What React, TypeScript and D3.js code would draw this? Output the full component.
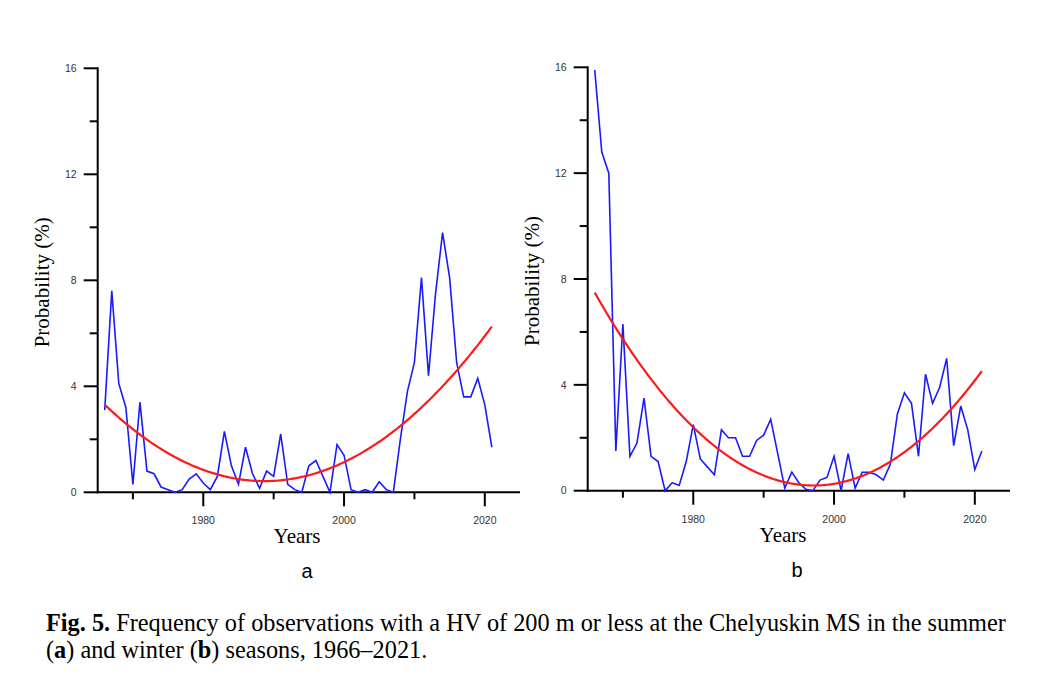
import React from "react";
import * as d3 from "d3";

const years: number[] = d3.range(1966, 2022);

const summer: number[] = [
  3.1, 7.6, 4.1, 3.2, 0.3, 3.4, 0.8, 0.7, 0.2, 0.1,
  0.0, 0.1, 0.5, 0.7, 0.35, 0.1, 0.6, 2.3, 1.0, 0.3,
  1.7, 0.7, 0.15, 0.8, 0.6, 2.2, 0.3, 0.1, 0.0, 1.0,
  1.2, 0.6, 0.0, 1.8, 1.4, 0.1, 0.0, 0.1, 0.0, 0.4,
  0.1, 0.0, 2.0, 3.8, 4.9, 8.1, 4.4, 7.5, 9.8, 8.1,
  4.9, 3.6, 3.6, 4.3, 3.3, 1.7,
];

const winter: number[] = [
  15.9, 12.8, 12.0, 1.5, 6.3, 1.3, 1.8, 3.5, 1.3, 1.1,
  0.0, 0.3, 0.2, 1.1, 2.5, 1.2, 0.9, 0.6, 2.3, 2.0,
  2.0, 1.3, 1.3, 1.9, 2.1, 2.7, 1.4, 0.1, 0.7, 0.3,
  0.05, 0.0, 0.4, 0.5, 1.3, 0.0, 1.4, 0.1, 0.7, 0.7,
  0.6, 0.4, 1.0, 2.9, 3.7, 3.3, 1.3, 4.4, 3.3, 3.9,
  5.0, 1.7, 3.2, 2.3, 0.8, 1.5,
];

const yMajorTicks: number[] = [0, 4, 8, 12, 16];
const yMinorTicks: number[] = [2, 6, 10, 14];
const xMajorTicks: number[] = [1980, 2000, 2020];
const xMinorTicks: number[] = [1970, 1990, 2010];

// least squares quadratic trend computed from the series
function quadFit(xs: number[], ys: number[]): (x: number) => number {
  const mx = d3.mean(xs) as number;
  const t = xs.map((x) => x - mx);
  const S = (p: number) => d3.sum(t, (v) => Math.pow(v, p));
  const T = (p: number) => d3.sum(t, (v, i) => Math.pow(v, p) * ys[i]);
  const A = [
    [xs.length, S(1), S(2)],
    [S(1), S(2), S(3)],
    [S(2), S(3), S(4)],
  ];
  const b = [T(0), T(1), T(2)];
  const M = A.map((r, i) => [...r, b[i]]);
  for (let i = 0; i < 3; i++) {
    for (let k = i + 1; k < 3; k++) {
      const f = M[k][i] / M[i][i];
      for (let j = i; j < 4; j++) M[k][j] -= f * M[i][j];
    }
  }
  const c = [0, 0, 0];
  for (let i = 2; i >= 0; i--) {
    let s = M[i][3];
    for (let j = i + 1; j < 3; j++) s -= M[i][j] * c[j];
    c[i] = s / M[i][i];
  }
  return (x: number) => {
    const v = x - mx;
    return c[0] + c[1] * v + c[2] * v * v;
  };
}

interface PanelProps {
  values: number[];
  left: number;
  right: number;
  top: number;
  bottom: number;
  letter: string;
  yearsX: number;
  letterX: number;
}

function Panel({ values, left, right, top, bottom, letter, yearsX, letterX }: PanelProps) {
  const x = d3.scaleLinear().domain([1965, 2025]).range([left, right]);
  const y = d3.scaleLinear().domain([0, 16]).range([bottom, top]);
  const line = d3
    .line<number>()
    .x((_, i) => x(years[i]))
    .y((d) => y(d));
  const fit = quadFit(years, values);
  const fineYears = d3.range(1966, 2021.01, 0.25);
  const fitLine = d3
    .line<number>()
    .x((d) => x(d))
    .y((d) => y(fit(d)));
  return (
    <g>
      <line x1={left} x2={left} y1={top - 1} y2={bottom + 1} stroke="#000" strokeWidth={2} />
      <line x1={left - 1} x2={right} y1={bottom} y2={bottom} stroke="#000" strokeWidth={2} />
      {yMajorTicks.map((t) => (
        <g key={"ym" + t}>
          <line x1={left - 14} x2={left} y1={y(t)} y2={y(t)} stroke="#000" strokeWidth={2} />
          <text
            x={left - 21}
            y={y(t)}
            dy="0.35em"
            textAnchor="end"
            fontFamily="Liberation Sans, Arial, sans-serif"
            fontSize={10.5}
            fill="#333"
          >
            {t}
          </text>
        </g>
      ))}
      {yMinorTicks.map((t) => (
        <line key={"yn" + t} x1={left - 8} x2={left} y1={y(t)} y2={y(t)} stroke="#000" strokeWidth={2} />
      ))}
      {xMajorTicks.map((t) => (
        <g key={"xm" + t}>
          <line x1={x(t)} x2={x(t)} y1={bottom} y2={bottom + 14} stroke="#000" strokeWidth={2} />
          <text
            x={x(t)}
            y={bottom + 32}
            textAnchor="middle"
            fontFamily="Liberation Sans, Arial, sans-serif"
            fontSize={10.5}
            fill="#333"
          >
            {t}
          </text>
        </g>
      ))}
      {xMinorTicks.map((t) => (
        <line key={"xn" + t} x1={x(t)} x2={x(t)} y1={bottom} y2={bottom + 7} stroke="#000" strokeWidth={2} />
      ))}
      <path d={line(values) || ""} fill="none" stroke="#1a1aff" strokeWidth={1.6} />
      <path d={fitLine(fineYears) || ""} fill="none" stroke="#ff1a1a" strokeWidth={2.2} />
      <text
        transform={`translate(${left - 49},${(top + bottom) / 2 + 2}) rotate(-90)`}
        textAnchor="middle"
        fontFamily="Liberation Serif, Times New Roman, serif"
        fontSize={21}
        fill="#000"
      >
        Probability (%)
      </text>
      <text
        x={yearsX}
        y={bottom + 51}
        textAnchor="middle"
        fontFamily="Liberation Serif, Times New Roman, serif"
        fontSize={21}
        fill="#000"
      >
        Years
      </text>
      <text
        x={letterX}
        y={bottom + 86}
        textAnchor="middle"
        fontFamily="Liberation Sans, Arial, sans-serif"
        fontSize={20}
        fill="#000"
      >
        {letter}
      </text>
    </g>
  );
}

export default function App() {
  return (
    <svg
      width={1044}
      height={684}
      style={{ position: "absolute", left: 0, top: 0, background: "#fff" }}
    >
      <rect width={1044} height={684} fill="#fff" />
      <Panel values={summer} left={97.7} right={520} top={68.3} bottom={492.3} letter="a" yearsX={297} letterX={307} />
      <Panel values={winter} left={587.7} right={1010} top={67.3} bottom={490.7} letter="b" yearsX={783} letterX={797} />
      <text
        x={46}
        y={631}
        fontFamily="Liberation Serif, Times New Roman, serif"
        fontSize={24.3}
        fill="#000"
      >
        <tspan fontWeight="bold">Fig. 5.</tspan> Frequency of observations with a HV of 200 m or less at the Chelyuskin MS in the summer
      </text>
      <text
        x={46}
        y={658}
        fontFamily="Liberation Serif, Times New Roman, serif"
        fontSize={24.3}
        fill="#000"
      >
        (<tspan fontWeight="bold">a</tspan>) and winter (<tspan fontWeight="bold">b</tspan>) seasons, 1966–2021.
      </text>
    </svg>
  );
}
